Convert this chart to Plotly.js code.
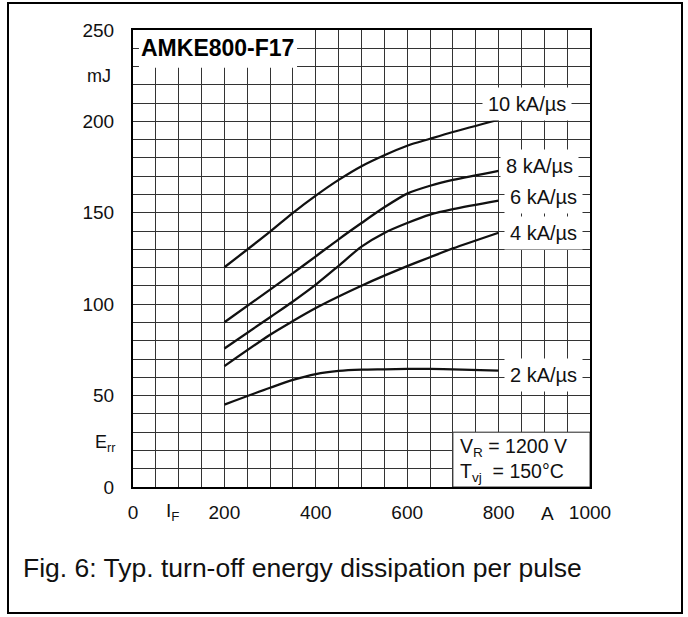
<!DOCTYPE html>
<html>
<head>
<meta charset="utf-8">
<script src="https://cdn.plot.ly/plotly-3.0.1.min.js"></script>
<style>
  html, body { margin: 0; padding: 0; background: #fff; }
  #wrap { position: relative; width: 688px; height: 617px; }
  #chart { position: absolute; left: 0; top: 0; width: 688px; height: 617px; }
  #frame { position: absolute; left: 7px; top: 2px; width: 676px; height: 612px; border: 2px solid #000; box-sizing: border-box; pointer-events: none; }
</style>
</head>
<body>
<div id="wrap">
  <div id="chart"></div>
  <div id="frame"></div>
</div>
<script>
// Forward current I_F (A)
const current = [200, 300, 350, 400, 450, 500, 550, 600, 650, 700, 800];
// Turn-off energy E_rr (mJ) per di/dt
const err10 = [120.2, 139.7, 150.0, 159.4, 168.0, 175.5, 181.5, 186.7, 190.5, 194.2, 200.9];
const err8  = [90.1, 108.0, 117.0, 126.2, 135.5, 144.4, 153.0, 160.5, 164.8, 168.0, 173.0];
const err6  = [75.8, 92.9, 101.5, 110.7, 121.0, 131.5, 139.0, 144.4, 149.0, 152.0, 156.7];
const err4  = [66.1, 83.3, 90.8, 97.9, 104.2, 110.1, 115.6, 120.8, 125.7, 130.5, 139.1];
const err2  = [45.1, 54.3, 58.6, 61.8, 63.5, 64.2, 64.4, 64.6, 64.6, 64.4, 63.7];
const seriesNames = ["10 kA/\u00b5s", "8 kA/\u00b5s", "6 kA/\u00b5s", "4 kA/\u00b5s", "2 kA/\u00b5s"];
const labelPos = [[862, 209.5], [890, 175.6], [899, 158.6], [899, 139], [899, 61.3]];
const xTicks = [0, 200, 400, 600, 800, 1000];
const yTicks = [0, 50, 100, 150, 200, 250];

const font = "Liberation Sans, Arial, Helvetica, sans-serif";
const allSeries = [err10, err8, err6, err4, err2];

const traces = allSeries.map((ys, i) => ({
  x: current, y: ys, type: "scatter", mode: "lines",
  name: seriesNames[i],
  line: { color: "#111", width: 2.3, shape: "spline", smoothing: 0.8 },
  hoverinfo: "skip"
}));

const annotations = seriesNames.map((t, i) => ({
  x: labelPos[i][0], y: labelPos[i][1], xref: "x", yref: "y",
  text: t, showarrow: false, bgcolor: "#fff", borderpad: 5,
  font: { family: font, size: 20, color: "#111" }
}));

const L = 133, R = 98, T = 30, B = 130;
const PW = 688 - L - R, PH = 617 - T - B;

annotations.push(
  { x: 13, y: 240, xref: "x", yref: "y", xanchor: "left", text: "<b>AMKE800-F17</b>", showarrow: false,
    font: { family: font, size: 23, color: "#000" } },
  { x: 711, y: 15, xref: "x", yref: "y", xanchor: "left", align: "left", showarrow: false,
    text: "V<sub>R</sub> = 1200 V<br>T<sub>vj</sub>  = 150\u00b0C",
    font: { family: font, size: 19.5, color: "#111" } },
  { x: -0.075, y: 225, xref: "paper", yref: "y", text: "mJ", showarrow: false, xanchor: "center",
    font: { family: font, size: 18, color: "#111" } },
  { x: -0.036, y: 24, xref: "paper", yref: "y", text: "E<sub>rr</sub>", showarrow: false, xanchor: "right",
    font: { family: font, size: 18, color: "#111" } },
  { x: 87, y: -0.055, xref: "x", yref: "paper", text: "I<sub>F</sub>", showarrow: false, yanchor: "middle",
    font: { family: font, size: 19, color: "#111" } },
  { x: 908, y: -0.058, xref: "x", yref: "paper", text: "A", showarrow: false, yanchor: "middle",
    font: { family: font, size: 19, color: "#111" } },
  { x: (21 - L) / PW, y: (617 - B - 568) / PH, xref: "paper", yref: "paper", xanchor: "left", yanchor: "middle",
    showarrow: false, text: "Fig. 6: Typ. turn-off energy dissipation per pulse",
    font: { family: font, size: 26.5, color: "#111" } }
);

const shapes = [
  { type: "rect", xref: "x", yref: "y", x0: 13, x1: 359, y0: 229.3, y1: 250,
    fillcolor: "#fff", line: { width: 0 }, layer: "between" },
  { type: "rect", xref: "x", yref: "y", x0: 700, x1: 1000, y0: 0, y1: 30,
    fillcolor: "#fff", line: { color: "#333", width: 1 }, layer: "between" }
];

const layout = {
  width: 688, height: 617,
  margin: { l: L, r: R, t: T, b: B, pad: 0 },
  paper_bgcolor: "#fff", plot_bgcolor: "#fff",
  showlegend: false,
  font: { family: font, color: "#111" },
  xaxis: {
    range: [0, 1000], tickvals: xTicks, ticktext: xTicks.map(String),
    showgrid: true, gridcolor: "#333", gridwidth: 1,
    minor: { dtick: 50, tick0: 0, showgrid: true, gridcolor: "#333", gridwidth: 1 },
    showline: true, linecolor: "#000", linewidth: 2, mirror: true,
    ticks: "", ticklabelstandoff: 7, zeroline: false,
    tickfont: { family: font, size: 19, color: "#111" }, fixedrange: true
  },
  yaxis: {
    range: [0, 250], tickvals: yTicks, ticktext: yTicks.map(String),
    showgrid: true, gridcolor: "#333", gridwidth: 1,
    minor: { dtick: 10, tick0: 0, showgrid: true, gridcolor: "#333", gridwidth: 1 },
    showline: true, linecolor: "#000", linewidth: 2, mirror: true,
    ticks: "", ticklabelstandoff: 13, zeroline: false,
    tickfont: { family: font, size: 19, color: "#111" }, fixedrange: true
  },
  annotations: annotations,
  shapes: shapes
};

Plotly.newPlot("chart", traces, layout, { staticPlot: true, displayModeBar: false });
</script>
</body>
</html>
